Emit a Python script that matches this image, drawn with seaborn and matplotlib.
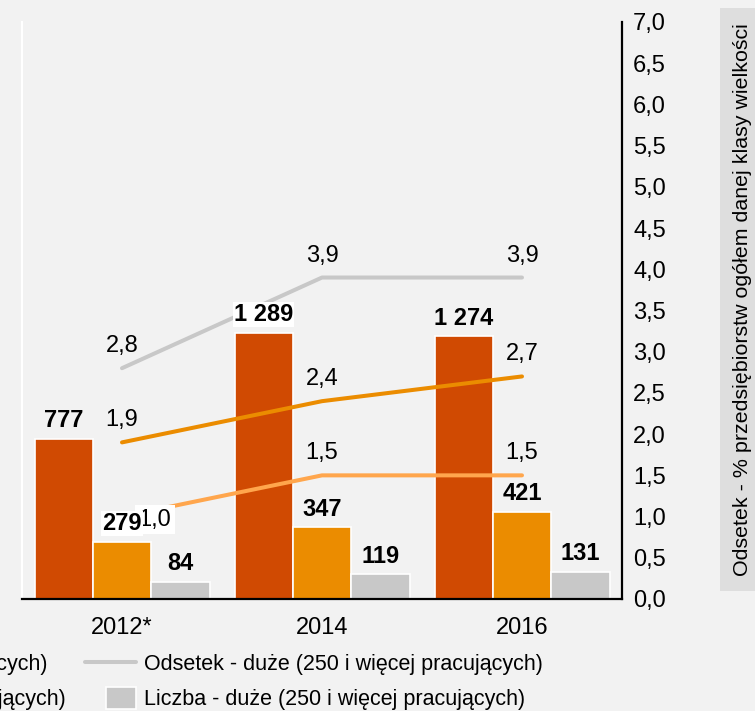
import numpy as np
import pandas as pd
import matplotlib
matplotlib.use("Agg")
import matplotlib.pyplot as plt
from matplotlib.lines import Line2D
from matplotlib.patches import Patch, Rectangle
from matplotlib.legend_handler import HandlerPatch
import seaborn as sns

# --- data -------------------------------------------------------------
years = ["2012*", "2014", "2016"]
size_classes = ["małe (10-49 pracujących)",
                "średnie (50-249 pracujących)",
                "duże (250 i więcej pracujących)"]
count_small = [777, 1289, 1274]
count_medium = [279, 347, 421]
count_large = [84, 119, 131]
share_small = [1.0, 1.5, 1.5]
share_medium = [1.9, 2.4, 2.7]
share_large = [2.8, 3.9, 3.9]

bar_colors = ["#D04A02", "#EB8C00", "#C8C8C8"]
line_colors = ["#FFA64D", "#EB8C00", "#C8C8C8"]
bg = "#F2F2F2"

counts = pd.DataFrame({
    "rok": np.repeat(years, 3),
    "klasa": size_classes * 3,
    "liczba": [v for trio in zip(count_small, count_medium, count_large) for v in trio],
})
shares = pd.DataFrame({
    "pos": np.tile(np.arange(len(years)), 3),
    "klasa": np.repeat(size_classes, len(years)),
    "odsetek": share_small + share_medium + share_large,
})

# --- style --------------------------------------------------------------
sns.set_style("white", {"axes.facecolor": bg, "figure.facecolor": bg})
plt.rcParams["font.family"] = ["Liberation Sans", "DejaVu Sans"]
plt.rcParams.update({"text.color": "black", "xtick.color": "black",
                     "ytick.color": "black", "axes.labelcolor": "black"})

W, H = 755, 711
fig = plt.figure(figsize=(W / 100, H / 100), dpi=100, facecolor=bg)
ax = fig.add_axes([22 / W, (H - 599) / H, 600 / W, 577 / H])
ax.set_facecolor(bg)

# bars: counts of enterprises per size class
sns.barplot(data=counts, x="rok", y="liczba", hue="klasa", hue_order=size_classes,
            palette=bar_colors, saturation=1, width=0.875, gap=0, errorbar=None,
            edgecolor="white", linewidth=1.2, ax=ax, legend=False)
ax.set_ylim(0, 2800)
ax.set_xlim(-0.5, len(years) - 0.5)
ax.set_xlabel("")
ax.set_ylabel("")
ax.set_yticks([])
ax.tick_params(axis="x", length=0, pad=13, labelsize=17)
for side in ["top", "right"]:
    ax.spines[side].set_visible(False)
ax.spines["left"].set_color("white")
ax.spines["left"].set_linewidth(1.5)
ax.spines["bottom"].set_color("black")
ax.spines["bottom"].set_linewidth(1.6)

# lines: share of all enterprises in the class, right axis
ax2 = ax.twinx()
sns.lineplot(data=shares, x="pos", y="odsetek", hue="klasa", hue_order=size_classes,
             palette=line_colors, linewidth=2.9, sort=False, ax=ax2, legend=False)
ax2.set_ylim(0, 7)
ax2.set_xlim(-0.5, len(years) - 0.5)
ax2.set_yticks(np.arange(0, 7.01, 0.5))
ax2.set_yticklabels([f"{t:.1f}".replace(".", ",") for t in np.arange(0, 7.01, 0.5)])
ax2.tick_params(axis="y", length=0, pad=8, labelsize=17)
ax2.set_xlabel("")
ax2.set_ylabel("")
for side in ["top", "left", "bottom"]:
    ax2.spines[side].set_visible(False)
ax2.spines["right"].set_color("black")
ax2.spines["right"].set_linewidth(1.6)

boxed = dict(boxstyle="square,pad=0.04", fc="white", ec="none")
boxed_wide = dict(boxstyle="square,pad=0.15", fc="white", ec="none")

# value labels over the lines
for series, vals in zip(size_classes, [share_small, share_medium, share_large]):
    for i, v in enumerate(vals):
        txt = f"{v:.1f}".replace(".", ",")
        if series == size_classes[0] and i == 0:
            ax2.annotate(txt, (i, v), xytext=(12, -6.5), textcoords="offset points",
                         ha="left", va="baseline", fontsize=17, zorder=5,
                         bbox=boxed_wide)
        else:
            ax2.annotate(txt, (i, v), xytext=(0, 11.5), textcoords="offset points",
                         ha="center", va="baseline", fontsize=17, zorder=5)

# value labels over the bars (drawn on top of the lines)
offsets = np.array([-1, 0, 1]) * 0.875 / 3
white_bg = {(0, 1), (1, 0)}
for k, vals in enumerate([count_small, count_medium, count_large]):
    for i, v in enumerate(vals):
        txt = f"{v:,}".replace(",", " ")
        ax2.annotate(txt, (i + offsets[k], v), xycoords=ax.transData,
                     xytext=(0, 8.6), textcoords="offset points",
                     ha="center", va="baseline", fontsize=17, fontweight="bold",
                     zorder=6, bbox=boxed if (i, k) in white_bg else None)


# legend at the bottom: line swatches and right-aligned rectangles
def square_patch(legend, orig_handle, xdescent, ydescent, width, height, fontsize):
    w, h = 21.6, 15.8
    return Rectangle((-xdescent + width - w, -ydescent + height / 2 - h / 2), w, h)


handles = [
    Line2D([], [], color=line_colors[1], lw=2.9, label="Odsetek - " + size_classes[1]),
    Patch(fc=bar_colors[0], ec="white", lw=1.2, label="Liczba - " + size_classes[0]),
    Line2D([], [], color=line_colors[0], lw=2.9, label="Odsetek - " + size_classes[0]),
    Patch(fc=bar_colors[1], ec="white", lw=1.2, label="Liczba - " + size_classes[1]),
    Line2D([], [], color=line_colors[2], lw=2.9, label="Odsetek - " + size_classes[2]),
    Patch(fc=bar_colors[2], ec="white", lw=1.2, label="Liczba - " + size_classes[2]),
]
fig.legend(handles=handles, ncol=3, loc="center right",
           bbox_to_anchor=(543 / W, (H - 682) / H), bbox_transform=fig.transFigure,
           frameon=False, fontsize=15.5, borderpad=0, borderaxespad=0,
           handlelength=2.38, handletextpad=0.37, columnspacing=0.89,
           labelspacing=0.68,
           handler_map={Patch: HandlerPatch(patch_func=square_patch)})

# right axis title in a grey box
fig.patches.append(Rectangle((720 / W, (H - 591) / H), 40 / W, 583 / H,
                             transform=fig.transFigure, fc="#DEDEDE", ec="none",
                             zorder=0))
fig.text(742 / W, (H - 300) / H,
         "Odsetek - % przedsiębiorstw ogółem danej klasy wielkości",
         rotation=90, ha="center", va="center", fontsize=15.4)

fig.savefig("out.png", dpi=100, facecolor=bg)
